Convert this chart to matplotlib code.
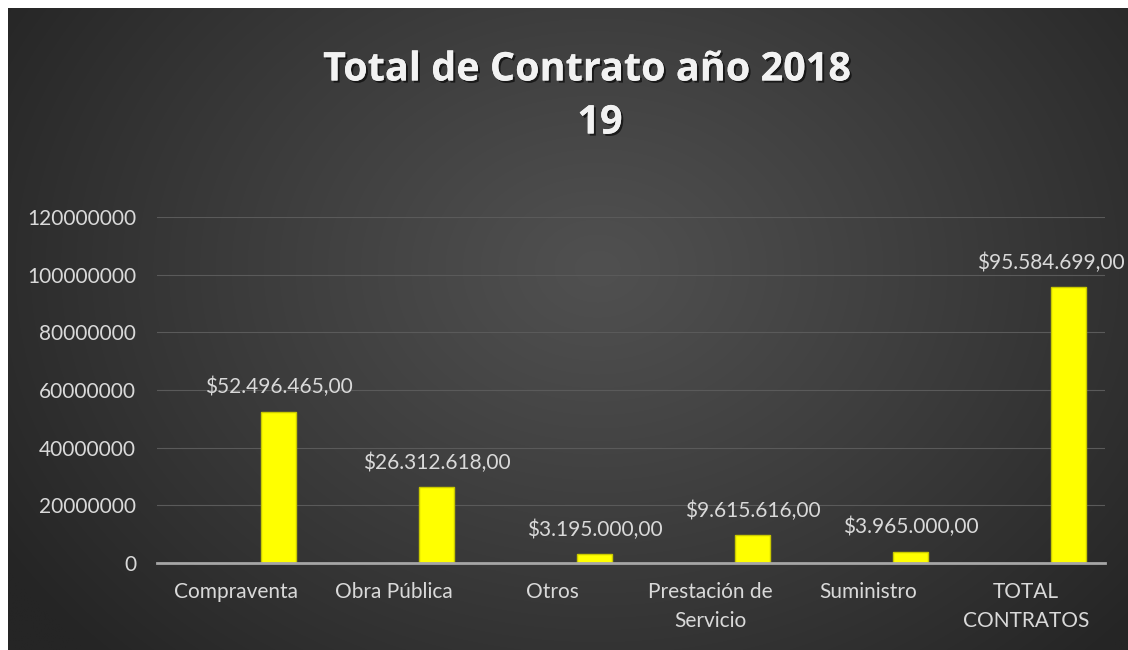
import numpy as np
import matplotlib
matplotlib.use("Agg")
import matplotlib.pyplot as plt
import matplotlib.patheffects as pe

# ---- data ----
categories = ["Compraventa", "Obra Pública", "Otros", "Prestación de\nServicio",
              "Suministro", "TOTAL\nCONTRATOS"]
values = [52496465, 26312618, 3195000, 9615616, 3965000, 95584699]
value_labels = ["$52.496.465,00", "$26.312.618,00", "$3.195.000,00",
                "$9.615.616,00", "$3.965.000,00", "$95.584.699,00"]
yticks = [0, 20000000, 40000000, 60000000, 80000000, 100000000, 120000000]
title_lines = ["Total de Contrato año 2018", "19"]

W, H = 1128, 650
plt.rcParams['font.family'] = ['Lato', 'DejaVu Sans']
fig = plt.figure(figsize=(W / 100, H / 100), dpi=100)
fig.patch.set_facecolor("white")

# ---- radial gradient background ----
bg = fig.add_axes([8 / W, -0.01, 1 - 8 / W + 0.01, 1 - 8 / H + 0.01])
bg.set_axis_off()
ny, nx = 320, 560
yy, xx = np.mgrid[0:ny, 0:nx]
cx, cy = nx * 0.52, ny * 0.40
d = np.sqrt(((xx - cx) / (nx * 0.62)) ** 2 + ((yy - cy) / (ny * 0.85)) ** 2)
d = np.clip(d, 0, 1)
light, dark = 0x50 / 255, 0x25 / 255
g = light + (dark - light) * d ** 1.1
img = np.dstack([g, g, g])
bg.imshow(img, aspect="auto", extent=[0, 1, 0, 1], interpolation="bilinear")
bg.set_xlim(0, 1)
bg.set_ylim(0, 1)

# ---- main axes ----
ax = fig.add_axes([157 / W, 1 - 563 / H, (1105 - 157) / W, (563 - 217) / H])
ax.set_facecolor("none")
x = np.arange(len(categories))
bars = ax.bar(x + 0.27, values, width=0.22, color="#ffff00",
              edgecolor="#c9c900", linewidth=1.0, zorder=3)

ann = []
for b, lab in zip(bars, value_labels):
    ann.append(ax.annotate(lab, (b.get_x() + b.get_width() / 2, b.get_height()),
                           xytext=(0, 13), textcoords="offset points",
                           ha="center", va="baseline", color="#d9d9d9", fontsize=15))

ax.set_xlim(-0.5, len(categories) - 0.5)
ax.set_ylim(0, 120000000)
ax.set_yticks(yticks)
ax.set_yticklabels([str(v) for v in yticks])
ax.set_xticks(x)
ax.set_xticklabels(categories, linespacing=1.55)
ax.tick_params(axis="both", length=0, colors="#d9d9d9", labelsize=15)
ax.tick_params(axis="y", pad=15)
ax.tick_params(axis="x", pad=14)
ax.grid(axis="y", color="#5a5a5a", linewidth=0.8, zorder=0)
ax.set_axisbelow(True)
for s in ["top", "right", "left"]:
    ax.spines[s].set_visible(False)
ax.spines["bottom"].set_color("#a6a6a6")
ax.spines["bottom"].set_linewidth(2)
ax.spines["bottom"].set_zorder(4)

shadow = [pe.withSimplePatchShadow(offset=(1.5, -1.5), shadow_rgbFace="black", alpha=0.6),
          pe.Normal()]
fig.text(587 / W, 1 - 70 / H, title_lines[0], ha="center", va="center",
         fontsize=28.5, fontweight="bold", color="#f2f2f2", family=["Open Sans", "DejaVu Sans"],
         path_effects=shadow)
fig.text(600 / W, 1 - 123 / H, title_lines[1], ha="center", va="center",
         fontsize=28.5, fontweight="bold", color="#f2f2f2", family=["Open Sans", "DejaVu Sans"],
         path_effects=shadow)

# keep data labels inside the figure (as the original does)
fig.canvas.draw()
r = fig.canvas.get_renderer()
for a in ann:
    bb = a.get_window_extent(r)
    if bb.x1 > W - 3:
        shift = (bb.x1 - (W - 3)) * 72 / 100
        a.set_position((-shift, 13))

fig.savefig("out.png", dpi=100, facecolor=fig.get_facecolor())
